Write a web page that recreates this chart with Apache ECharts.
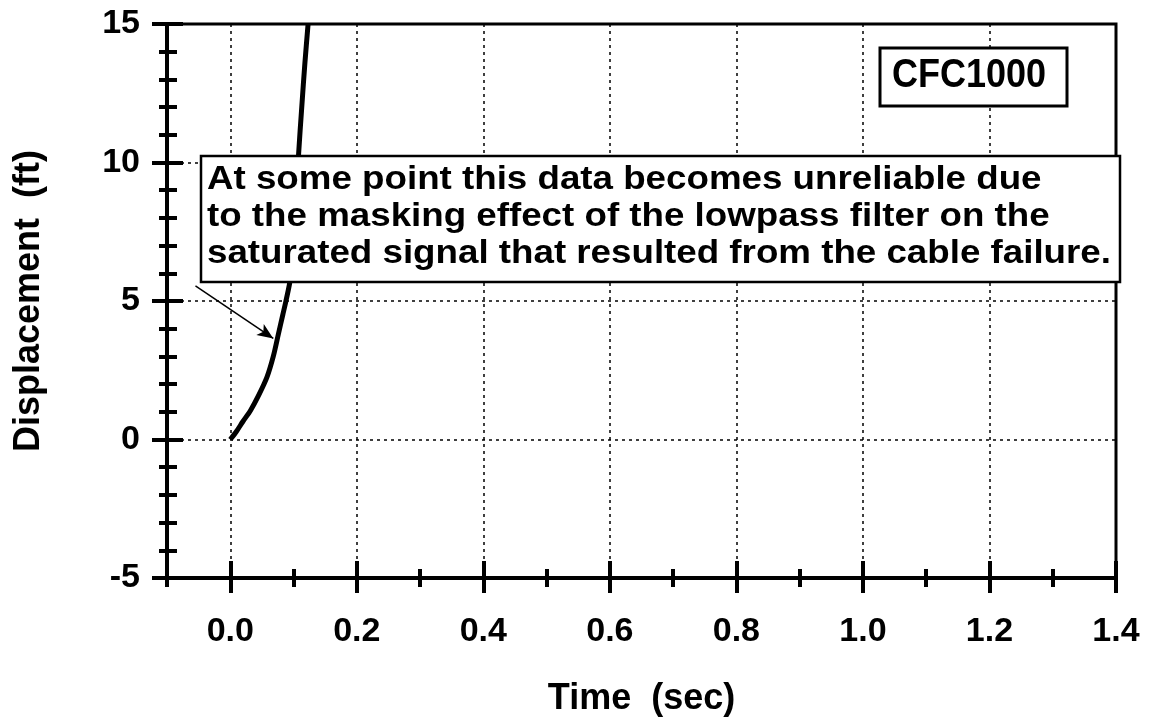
<!DOCTYPE html>
<html>
<head>
<meta charset="utf-8">
<script src="https://cdn.jsdelivr.net/npm/echarts@6/dist/echarts.min.js"></script>
<style>html,body{margin:0;padding:0;background:#fff;}#c{width:1150px;height:719px;}</style>
</head>
<body>
<div id="c"></div>
<script>
const timeSec = [0, 0.01, 0.02, 0.032, 0.045, 0.058, 0.068, 0.076, 0.083, 0.088, 0.095, 0.100, 0.104, 0.108, 0.113, 0.118, 0.123];
const displacementFt = [0, 0.3, 0.65, 1.05, 1.6, 2.25, 3.0, 3.8, 4.5, 5.0, 5.8, 7.0, 8.5, 10.3, 12.0, 13.6, 15.0];
const xMajorTicks = [0, 0.2, 0.4, 0.6, 0.8, 1.0, 1.2, 1.4];
const xMinorTicks = [-0.1, 0.1, 0.3, 0.5, 0.7, 0.9, 1.1, 1.3];
const arrowFrom = [-0.055, 5.55];
const arrowTo = [0.068, 3.65];
const annotationLines = [
  'At some point this data becomes unreliable due',
  'to the masking effect of the lowpass filter on the',
  'saturated signal that resulted from the cable failure.'
];
const filterLabel = 'CFC1000';
const xTitle = 'Time  (sec)';
const yTitle = 'Displacement  (ft)';

const FONT = 'Liberation Sans, Arial, Helvetica, sans-serif';
const chart = echarts.init(document.getElementById('c'));

function xAxisBase(extra) {
  return Object.assign({
    type: 'value', min: -0.1, max: 1.4, position: 'bottom',
    axisLine: { show: false, onZero: false }, axisLabel: { show: false },
    splitLine: { show: false }
  }, extra);
}
function yAxisBase(extra) {
  return Object.assign({
    type: 'value', min: -5, max: 15, interval: 5, position: 'left',
    axisLine: { show: false, onZero: false }, axisLabel: { show: false },
    splitLine: { show: false }
  }, extra);
}

const option = {
  backgroundColor: '#fff',
  animation: false,
  grid: { left: 167, right: 34, top: 24, bottom: 141, outerBoundsMode: 'none', containLabel: false,
    show: true, borderColor: '#000', borderWidth: 3, backgroundColor: 'transparent' },
  xAxis: [
    xAxisBase({
      axisLine: { show: true, onZero: false, lineStyle: { color: '#000', width: 4 } },
      axisTick: { show: true, inside: false, length: 15, customValues: xMajorTicks, lineStyle: { color: '#000', width: 4 } },
      axisLabel: { show: true, customValues: xMajorTicks, margin: 37, color: '#000', fontFamily: FONT, fontWeight: 'bold', fontSize: 34,
        formatter: v => v.toFixed(1) },
      splitLine: { show: true, lineStyle: { color: '#000', width: 1.5, type: [3, 4] } },
      name: xTitle, nameLocation: 'middle', nameGap: 103,
      nameTextStyle: { color: '#000', fontFamily: FONT, fontWeight: 'bold', fontSize: 36 }
    }),
    xAxisBase({ axisTick: { show: true, inside: true, length: 17, customValues: xMajorTicks, lineStyle: { color: '#000', width: 4 } } }),
    xAxisBase({ axisTick: { show: true, inside: false, length: 9, customValues: xMinorTicks, lineStyle: { color: '#000', width: 4 } } }),
    xAxisBase({ axisTick: { show: true, inside: true, length: 9, customValues: xMinorTicks, lineStyle: { color: '#000', width: 4 } } })
  ],
  yAxis: [
    yAxisBase({
      axisLine: { show: true, onZero: false, lineStyle: { color: '#000', width: 4 } },
      axisTick: { show: true, inside: false, length: 15, lineStyle: { color: '#000', width: 4 } },
      minorTick: { show: true, splitNumber: 5, length: 8, lineStyle: { color: '#000', width: 4 } },
      axisLabel: { show: true, margin: 27, color: '#000', fontFamily: FONT, fontWeight: 'bold', fontSize: 34 },
      splitLine: { show: true, lineStyle: { color: '#000', width: 1.5, type: [3, 4] } },
      name: yTitle, nameLocation: 'middle', nameGap: 120,
      nameTextStyle: { color: '#000', fontFamily: FONT, fontWeight: 'bold', fontSize: 36 }
    }),
    yAxisBase({
      axisTick: { show: true, inside: true, length: 16, lineStyle: { color: '#000', width: 4 } },
      minorTick: { show: true, splitNumber: 5, length: 10, lineStyle: { color: '#000', width: 4 } }
    })
  ],
  series: [{
    type: 'line',
    xAxisIndex: 0, yAxisIndex: 0,
    data: timeSec.map((t, i) => [t, displacementFt[i]]),
    showSymbol: false, smooth: 0.3,
    lineStyle: { color: '#000', width: 5 },
    z: 5,
    markLine: {
      silent: true, symbol: ['none', 'arrow'], symbolSize: [10, 16],
      lineStyle: { color: '#000', width: 1.5, type: 'solid' },
      label: { show: false },
      data: [[{ coord: arrowFrom }, { coord: arrowTo }]]
    }
  }],
  graphic: [
    { type: 'rect', z: 100, shape: { x: 201, y: 156, width: 919, height: 126 },
      style: { fill: '#fff', stroke: '#000', lineWidth: 2.5 } },
    { type: 'text', z: 101, x: 207, y: 161, scaleX: 1.08,
      style: { text: annotationLines.join('\n'), font: 'bold 34px ' + FONT, lineHeight: 37, fill: '#000' } },
    { type: 'rect', z: 100, shape: { x: 880, y: 48, width: 187, height: 58 },
      style: { fill: '#fff', stroke: '#000', lineWidth: 3 } },
    { type: 'text', z: 101, x: 892, y: 56, scaleX: 0.9,
      style: { text: filterLabel, font: 'bold 40px ' + FONT, fill: '#000' } }
  ]
};
chart.setOption(option);
</script>
</body>
</html>
